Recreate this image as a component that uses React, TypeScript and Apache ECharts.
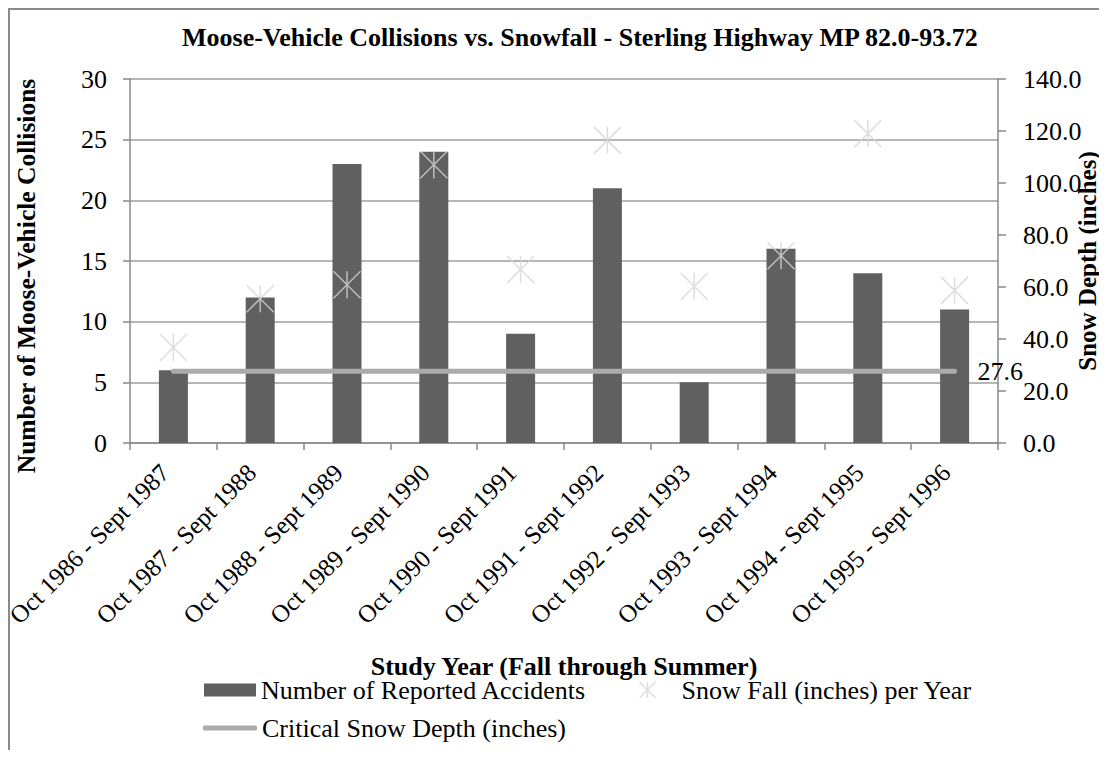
import React, { useEffect, useRef } from "react";
import * as echarts from "echarts";

const categories = [
  "Oct 1986 - Sept 1987",
  "Oct 1987 - Sept 1988",
  "Oct 1988 - Sept 1989",
  "Oct 1989 - Sept 1990",
  "Oct 1990 - Sept 1991",
  "Oct 1991 - Sept 1992",
  "Oct 1992 - Sept 1993",
  "Oct 1993 - Sept 1994",
  "Oct 1994 - Sept 1995",
  "Oct 1995 - Sept 1996",
];
const accidents = [6, 12, 23, 24, 9, 21, 5, 16, 14, 11];
const snowfall = [36.7, 55.5, 60.9, 107, 66.7, 116.4, 60.2, 72, 119, 58.7];
const criticalDepth = [27.6, 27.6, 27.6, 27.6, 27.6, 27.6, 27.6, 27.6, 27.6, 27.6];

const FONT = "Liberation Serif";
const STAR = "path://M0,0L10,10M10,0L0,10M5,0L5,10";

export default function App() {
  const ref = useRef<HTMLDivElement>(null);
  useEffect(() => {
    if (!ref.current) return;
    const chart = echarts.init(ref.current, undefined, { renderer: "svg" });
    const axisLine = { show: true, lineStyle: { color: "#888888", width: 1.5 } };
    const tick = (len: number) => ({ show: true, length: len, lineStyle: { color: "#888888", width: 1.5 } });
    chart.setOption({
      animation: false,
      textStyle: { fontFamily: FONT },
      title: {
        text: "Moose-Vehicle Collisions vs. Snowfall - Sterling Highway MP 82.0-93.72",
        left: 167,
        top: 9,
        textStyle: { fontFamily: FONT, fontSize: 26, fontWeight: "bold", color: "#000" },
      },
      grid: {
        left: 120,
        right: 109,
        top: 69,
        bottom: 307,
        containLabel: false,
        outerBoundsMode: "none",
      },
      legend: [
        {
          left: 189,
          top: 662,
          itemWidth: 52,
          itemHeight: 13,
          textStyle: { fontFamily: FONT, fontSize: 26, color: "#000" },
          data: [{ name: "Number of Reported Accidents", icon: "rect" }],
        },
        {
          left: 622,
          top: 662,
          itemWidth: 18,
          itemHeight: 16,
          textStyle: { fontFamily: FONT, fontSize: 26, color: "#000", padding: [0, 0, 0, 20] },
          data: [
            {
              name: "Snow Fall (inches) per Year",
              icon: STAR,
              itemStyle: { color: "none", borderColor: "#d6d6d6", borderWidth: 1.5 },
            },
          ],
        },
        {
          left: 188,
          top: 700,
          itemWidth: 54,
          itemHeight: 5,
          textStyle: { fontFamily: FONT, fontSize: 26, color: "#000" },
          data: [
            {
              name: "Critical Snow Depth (inches)",
              icon: "roundRect",
              itemStyle: { color: "#ababab" },
            },
          ],
        },
      ],
      xAxis: {
        type: "category",
        data: categories,
        boundaryGap: true,
        axisLine,
        axisTick: tick(7),
        axisLabel: {
          interval: 0,
          rotate: 45,
          margin: 17,
          padding: [0, 12, 0, 0],
          fontFamily: FONT,
          fontSize: 25,
          color: "#000",
        },
      },
      yAxis: [
        {
          type: "value",
          min: 0,
          max: 30,
          interval: 5,
          axisLine,
          axisTick: tick(7),
          axisLabel: { margin: 23, fontFamily: FONT, fontSize: 26, color: "#000" },
          splitLine: { show: true, lineStyle: { color: "#9e9e9e", width: 1.5 } },
        },
        {
          type: "value",
          min: 0,
          max: 140,
          interval: 20,
          position: "right",
          axisLine,
          axisTick: tick(8),
          axisLabel: {
            margin: 25,
            fontFamily: FONT,
            fontSize: 26,
            color: "#000",
            formatter: (v: number) => v.toFixed(1),
          },
          splitLine: { show: false },
        },
      ],
      graphic: [
        {
          type: "text",
          x: 554,
          y: 656,
          style: {
            text: "Study Year (Fall through Summer)",
            align: "center",
            verticalAlign: "middle",
            fontFamily: FONT,
            fontSize: 26,
            fontWeight: "bold",
            fill: "#000",
          },
        },
        {
          type: "text",
          x: 16,
          y: 266,
          rotation: Math.PI / 2,
          style: {
            text: "Number of Moose-Vehicle Collisions",
            align: "center",
            verticalAlign: "middle",
            fontFamily: FONT,
            fontSize: 25.5,
            fontWeight: "bold",
            fill: "#000",
          },
        },
        {
          type: "text",
          x: 1077,
          y: 251,
          rotation: Math.PI / 2,
          style: {
            text: "Snow Depth (inches)",
            align: "center",
            verticalAlign: "middle",
            fontFamily: FONT,
            fontSize: 25,
            fontWeight: "bold",
            fill: "#000",
          },
        },
      ],
      series: [
        {
          name: "Number of Reported Accidents",
          type: "bar",
          data: accidents,
          barWidth: 29,
          itemStyle: { color: "#606060" },
          z: 2,
        },
        {
          name: "Critical Snow Depth (inches)",
          type: "line",
          yAxisIndex: 1,
          data: criticalDepth,
          symbol: "none",
          lineStyle: { color: "#ababab", width: 5, cap: "round" },
          endLabel: {
            show: true,
            formatter: "27.6",
            distance: 23,
            fontFamily: FONT,
            fontSize: 26,
            color: "#000",
          },
          z: 3,
        },
        {
          name: "Snow Fall (inches) per Year",
          type: "scatter",
          yAxisIndex: 1,
          data: snowfall,
          symbol: STAR,
          symbolSize: 27,
          itemStyle: { color: "none", borderColor: "#d6d6d6", borderWidth: 1.5 },
          z: 4,
        },
      ],
    });
    return () => chart.dispose();
  }, []);
  return (
    <div
      ref={ref}
      style={{
        width: 1097,
        height: 740,
        borderLeft: "2px solid #8a8a8a",
        borderTop: "2px solid #8a8a8a",
      }}
    />
  );
}
